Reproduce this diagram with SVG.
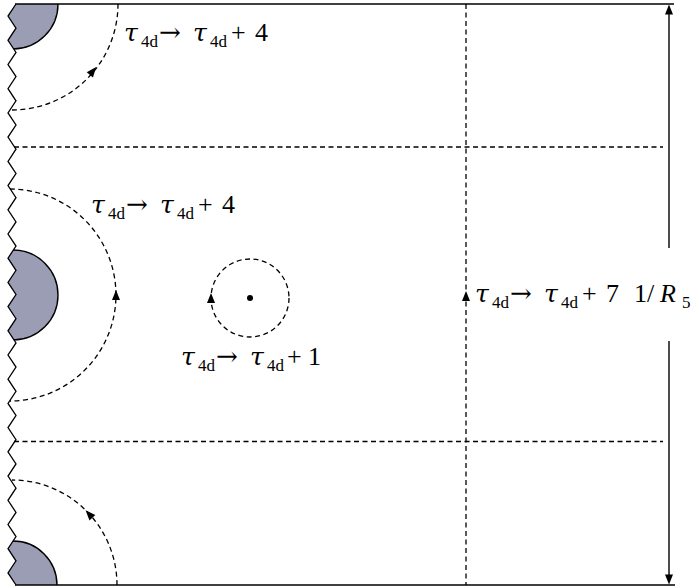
<svg xmlns="http://www.w3.org/2000/svg" xmlns:xlink="http://www.w3.org/1999/xlink" width="697" height="587" viewBox="0 0 697 587">
<style>
.solid{fill:none;stroke:#000;stroke-width:1.5}
.dash{fill:none;stroke:#000;stroke-width:1.3;stroke-dasharray:5 3.5}
.disc{fill:#9b9db5;stroke:#000;stroke-width:1.4}
.lbl{font-family:"Liberation Serif","DejaVu Serif",serif;font-size:26px;fill:#000}
.tau{font-family:"DejaVu Serif",serif;font-style:italic;font-size:25px}
.it{font-style:italic}
.sub{font-size:17px}
.arr{font-family:"DejaVu Serif",serif;font-size:26px}
.ah{fill:#000}
</style>
<defs>
<path id="ah" d="M5,0 L-5,-4 L-5,4 Z"/>
<clipPath id="inside">
<polygon points="16,4 8,16.1 16,28.2 8,40.3 16,52.4 8,64.5 16,76.6 8,88.7 16,100.8 8,112.9 16,125 8,137.1 16,149.2 8,161.4 16,173.5 8,185.6 16,197.7 8,209.8 16,221.9 8,234 16,246.1 8,258.2 16,270.3 8,282.4 16,294.5 8,306.6 16,318.7 8,330.8 16,342.9 8,355 16,367.1 8,379.2 16,391.3 8,403.4 16,415.5 8,427.6 16,439.7 8,451.8 16,463.9 8,476.1 16,488.2 8,500.3 16,512.4 8,524.5 16,536.6 8,548.7 16,560.8 8,572.9 16,585 674,585 674,4"/>
</clipPath>
</defs>

<g id="discs" clip-path="url(#inside)">
<circle class="disc" cx="13" cy="4" r="45"/>
<circle class="disc" cx="13" cy="295" r="45"/>
<circle class="disc" cx="13" cy="585" r="44"/>
</g>

<g id="frame">
<polyline class="solid" style="stroke-width:1.3" points="16,4 8,16.1 16,28.2 8,40.3 16,52.4 8,64.5 16,76.6 8,88.7 16,100.8 8,112.9 16,125 8,137.1 16,149.2 8,161.4 16,173.5 8,185.6 16,197.7 8,209.8 16,221.9 8,234 16,246.1 8,258.2 16,270.3 8,282.4 16,294.5 8,306.6 16,318.7 8,330.8 16,342.9 8,355 16,367.1 8,379.2 16,391.3 8,403.4 16,415.5 8,427.6 16,439.7 8,451.8 16,463.9 8,476.1 16,488.2 8,500.3 16,512.4 8,524.5 16,536.6 8,548.7 16,560.8 8,572.9 16,585"/>
<line class="solid" x1="15" y1="4" x2="674" y2="4"/>
<line class="solid" x1="15" y1="585" x2="675" y2="585"/>
</g>

<g id="connectors">
<line class="dash" x1="14" y1="147" x2="663" y2="147"/>
<line class="dash" x1="14" y1="441.5" x2="663" y2="441.5"/>
<line class="dash" x1="466" y1="4" x2="466" y2="585"/>
<path class="dash" d="M12,110 A106,106 0 0 0 118,4"/>
<path class="dash" d="M10,189 A106,106 0 0 1 10,401"/>
<path class="dash" d="M117,585 A105,105 0 0 0 12,480"/>
<circle class="dash" cx="250" cy="298" r="39"/>
<line class="solid" style="stroke-width:1.4" x1="669" y1="248" x2="669" y2="10"/>
<line class="solid" style="stroke-width:1.4" x1="669" y1="341" x2="669" y2="579"/>
<use xlink:href="#ah" class="ah" transform="translate(669,9.5) rotate(-90)"/>
<use xlink:href="#ah" class="ah" transform="translate(669,579.5) rotate(90)"/>
<use xlink:href="#ah" class="ah" transform="translate(93,71) rotate(-51)"/>
<use xlink:href="#ah" class="ah" transform="translate(116,295) rotate(-90)"/>
<use xlink:href="#ah" class="ah" transform="translate(89,514) rotate(-133)"/>
<use xlink:href="#ah" class="ah" transform="translate(211,298) rotate(-90)"/>
<use xlink:href="#ah" class="ah" transform="translate(466,296) rotate(-90)"/>
</g>

<g id="puncture">
<circle cx="250" cy="298" r="3" fill="#000"/>
</g>

<g id="label-top">
<text class="lbl" y="41"><tspan class="tau" x="124">τ</tspan><tspan class="sub" x="141" y="47">4d</tspan><tspan class="arr" x="159" y="41">→</tspan><tspan class="tau" x="193">τ</tspan><tspan class="sub" x="210" y="47">4d</tspan><tspan x="231" y="41">+</tspan><tspan x="255">4</tspan></text>
</g>
<g id="label-mid">
<text class="lbl" y="213"><tspan class="tau" x="91">τ</tspan><tspan class="sub" x="108" y="219">4d</tspan><tspan class="arr" x="126" y="213">→</tspan><tspan class="tau" x="160">τ</tspan><tspan class="sub" x="177" y="219">4d</tspan><tspan x="198" y="213">+</tspan><tspan x="222">4</tspan></text>
</g>
<g id="label-one">
<text class="lbl" y="365"><tspan class="tau" x="181">τ</tspan><tspan class="sub" x="198" y="371">4d</tspan><tspan class="arr" x="216" y="365">→</tspan><tspan class="tau" x="250">τ</tspan><tspan class="sub" x="267" y="371">4d</tspan><tspan x="287" y="365">+</tspan><tspan x="308">1</tspan></text>
</g>
<g id="label-seven">
<text class="lbl" y="302"><tspan class="tau" x="475">τ</tspan><tspan class="sub" x="492" y="308">4d</tspan><tspan class="arr" x="510" y="302">→</tspan><tspan class="tau" x="544">τ</tspan><tspan class="sub" x="561" y="308">4d</tspan><tspan x="582" y="302">+</tspan><tspan x="606">7</tspan></text>
</g>
<g id="label-R">
<text class="lbl" y="302"><tspan x="634">1/</tspan><tspan class="it" x="660">R</tspan><tspan class="sub" x="682" y="308">5</tspan></text>
</g>
</svg>
